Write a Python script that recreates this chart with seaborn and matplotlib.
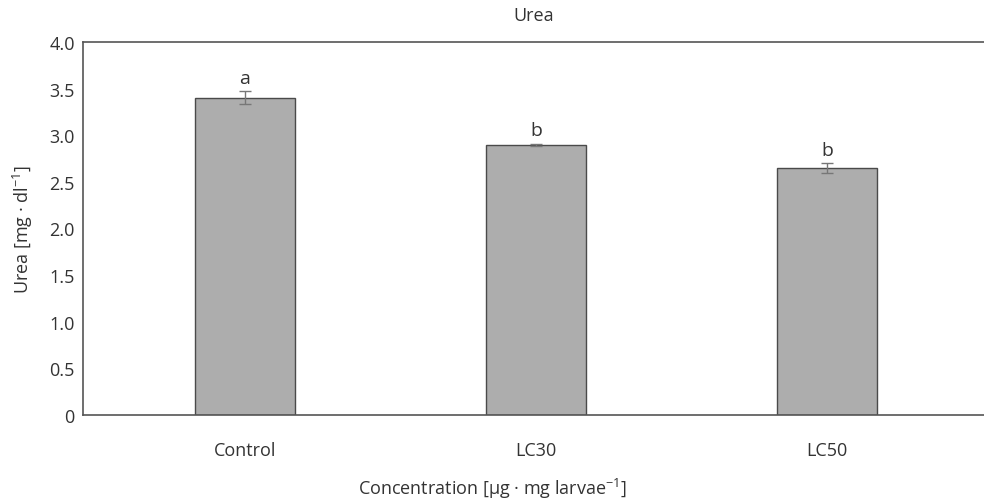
import matplotlib
matplotlib.use("Agg")
import matplotlib.pyplot as plt
import seaborn as sns
import pandas as pd

categories = ["Control", "LC30", "LC50"]
values = [3.40, 2.90, 2.65]
errors = [0.07, 0.01, 0.05]
letters = ["a", "b", "b"]
yticks = [0, 0.5, 1.0, 1.5, 2.0, 2.5, 3.0, 3.5, 4.0]
ytick_labels = ["0", "0.5", "1.0", "1.5", "2.0", "2.5", "3.0", "3.5", "4.0"]

sns.set_style("white")
plt.rcParams["font.family"] = ["Open Sans", "DejaVu Sans"]
plt.rcParams["mathtext.fontset"] = "custom"
plt.rcParams["mathtext.rm"] = "Open Sans"
plt.rcParams["mathtext.it"] = "Open Sans"

TXT = "#333333"
FS = 13
df = pd.DataFrame({"cat": categories, "val": values})

fig = plt.figure(figsize=(9.84, 5.02), dpi=100)
ax = fig.add_axes([83/984, 1-416/502, 1-83/984, (416-43)/502])

sns.barplot(data=df, x="cat", y="val", order=categories, color="#adadad",
            width=0.345, edgecolor="#4a4a4a", linewidth=1.0, saturation=1,
            errorbar=None, ax=ax)
pos = list(range(len(categories)))
ax.errorbar(pos, values, yerr=errors, fmt="none", ecolor="#777777",
            elinewidth=1.0, capsize=4, capthick=1.0)
for p, v, e, l in zip(pos, values, errors, letters):
    ax.text(p, v + e + 0.05, l, ha="center", va="bottom", fontsize=FS + 1, color=TXT)

ax.set_xlim(-0.557, 2.54)
ax.set_ylim(0, 4.0)
ax.set_yticks(yticks)
ax.set_yticklabels(ytick_labels)
ax.tick_params(axis="both", length=0, labelsize=FS, colors=TXT)
ax.tick_params(axis="x", pad=19)
ax.tick_params(axis="y", pad=6)
for s in ["left", "bottom", "top"]:
    ax.spines[s].set_color("#555555")
    ax.spines[s].set_linewidth(1.2)
ax.spines["right"].set_visible(False)

ax.set_xlabel("Concentration [µg · mg larvae$^{-1}$]", fontsize=FS, color=TXT)
ax.xaxis.set_label_coords(0.454, -0.163)
ax.set_ylabel("Urea [mg · dl$^{-1}$]", fontsize=FS, color=TXT, labelpad=10)
ax.set_title("Urea", fontsize=FS, color=TXT, pad=16)

fig.savefig("out.png", dpi=100)
